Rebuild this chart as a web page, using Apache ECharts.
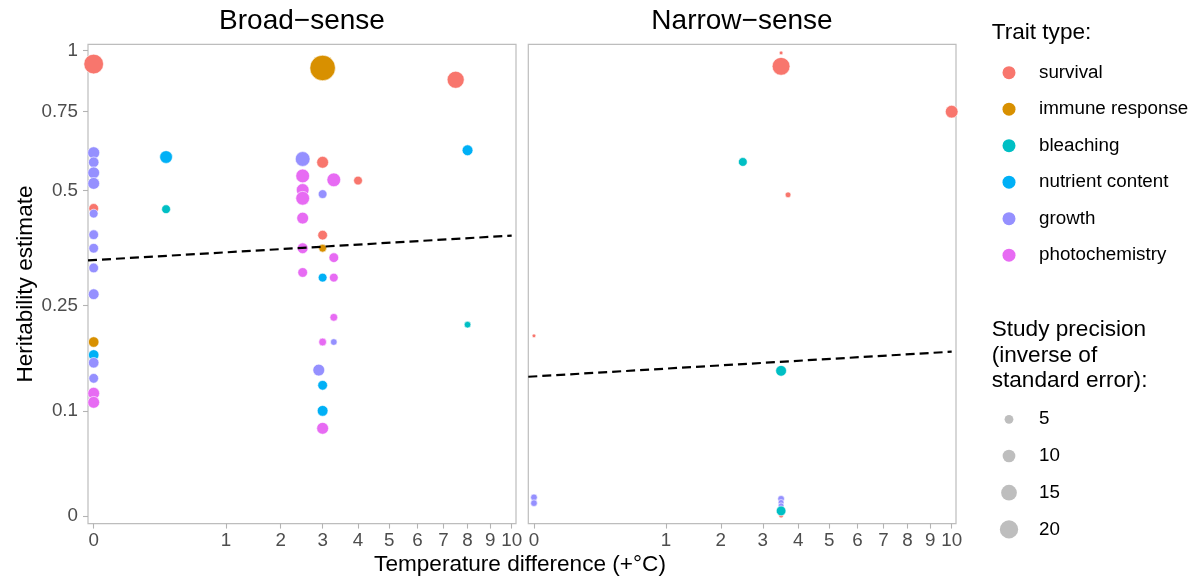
<!DOCTYPE html>
<html><head><meta charset="utf-8">
<script src="https://cdn.jsdelivr.net/npm/echarts@6/dist/echarts.min.js"></script>
<style>html,body{margin:0;padding:0;background:#fff}#c{width:1197px;height:584px}</style>
</head><body><div id="c"></div>
<script>
// ---------- data ----------
const traits = ['survival','immune response','bleaching','nutrient content','growth','photochemistry'];
const traitColors = ['#F8766D','#D89000','#00BFC4','#00B0F6','#9590FF','#E76BF3'];
const panels = ['Broad\u2212sense','Narrow\u2212sense'];
const xTicks = [0,1,2,3,4,5,6,7,8,9,10];
const yTicks = [0,0.1,0.25,0.5,0.75,1];
const yTickLabels = ['0','0.1','0.25','0.5','0.75','1'];
const sizeBreaks = [5,10,15,20];

// [temperature difference, heritability estimate, study precision]
const broadSurvival = [[0,0.940,23],[7.5,0.873,17.5],[0,0.454,6],[3,0.581,8.7],[4,0.528,5],[3,0.390,6]];
const broadImmune = [[3,0.923,38],[0,0.191,7],[3,0.361,4]];
const broadBleaching = [[0.3,0.452,5],[8,0.218,3]];
const broadNutrient = [[0.3,0.597,10],[8,0.618,7.3],[0,0.172,7],[3,0.301,5],[3,0.131,6],[3,0.100,7.3]];
const broadGrowth = [[0,0.610,9],[0,0.581,7],[0,0.550,8.7],[0,0.520,8.7],[0,0.441,5],[0,0.391,6],[0,0.361,6],[0,0.320,6],[0,0.270,7.3],[0,0.161,7],[0,0.140,6],[2.5,0.591,13.3],[3,0.491,5],[3.3,0.191,3],[2.9,0.151,8.7]];
const broadPhoto = [[0,0.121,8.7],[0,0.110,8.7],[2.5,0.541,11.6],[3.3,0.530,11.6],[2.5,0.502,10],[2.5,0.480,11.6],[2.5,0.430,8.7],[2.5,0.361,7.3],[3.3,0.341,6],[2.5,0.311,6],[3.3,0.301,5],[3.3,0.230,4],[3,0.191,4],[3,0.0805,8.7]];

const narrowSurvival = [[3.5,0.990,1.1],[3.5,0.930,19],[10,0.749,10],[3.7,0.489,2.3],[0,0.2005,1.1],[3.5,0.0005,1.7]];
const narrowImmune = [];
const narrowBleaching = [[2.5,0.582,5],[3.5,0.150,7.3],[3.5,0.0041,6]];
const narrowNutrient = [];
const narrowGrowth = [[0,0.015,3],[0,0.0103,3],[3.5,0.0138,3],[3.5,0.0109,2.3],[3.5,0.0082,2.3]];
const narrowPhoto = [];

const trendX = [0,10];
const trendBroad = [0.336,0.389];
const trendNarrow = [0.1425,0.1767];

// ---------- scales ----------
const fx = v => Math.sqrt(v);
const fy = v => Math.log(v + 0.2);
const sizeFn = p => Math.max(3, 4.25*Math.sqrt(p) - 0.7);
const XMIN = -0.043, XMAX = 3.195;
const YMIN = -1.638, YMAX = 0.207;
const FONT = "'Liberation Sans', Arial, Helvetica, sans-serif";

const panelData = [
  {survival:broadSurvival,'immune response':broadImmune,bleaching:broadBleaching,'nutrient content':broadNutrient,growth:broadGrowth,photochemistry:broadPhoto},
  {survival:narrowSurvival,'immune response':narrowImmune,bleaching:narrowBleaching,'nutrient content':narrowNutrient,growth:narrowGrowth,photochemistry:narrowPhoto}
];
const trends = [trendBroad, trendNarrow];
const drawOrder = ['survival','immune response','nutrient content','growth','bleaching','photochemistry'];

const grids = [
  {left:88, top:44.3, width:428, height:479.3},
  {left:528.3, top:44.3, width:427.7, height:479.3}
].map(g => Object.assign(g, {show:true, borderColor:'#BDBDBD', borderWidth:1.2, backgroundColor:'rgba(0,0,0,0)', containLabel:false, outerBoundsMode:'none'}));

const xAxes = [0,1].map(i => ({
  type:'value', gridIndex:i, min:XMIN, max:XMAX, position:'bottom',
  axisLine:{show:false, onZero:false},
  axisTick:{show:true, customValues:xTicks.map(fx), length:5, lineStyle:{color:'#B3B3B3', width:1.1}},
  axisLabel:{show:true, customValues:xTicks.map(fx), formatter:v => String(Math.round(v*v)), color:'#4D4D4D', fontSize:18.8, fontFamily:FONT, margin:8},
  splitLine:{show:false}
}));
const yAxes = [0,1].map(i => ({
  type:'value', gridIndex:i, min:YMIN, max:YMAX, position:'left',
  axisLine:{show:false, onZero:false},
  axisTick:{show:i===0, customValues:yTicks.map(fy), length:5, lineStyle:{color:'#B3B3B3', width:1.1}},
  axisLabel:{show:i===0, customValues:yTicks.map(fy), formatter:v => {
      let k = 0, best = 1e9;
      yTicks.forEach((t,j) => { const d = Math.abs(fy(t)-v); if (d < best) { best = d; k = j; } });
      return yTickLabels[k];
    }, color:'#4D4D4D', fontSize:18.8, fontFamily:FONT, margin:10},
  splitLine:{show:false}
}));

const series = [];
[0,1].forEach(i => {
  drawOrder.forEach(name => {
    const c = traitColors[traits.indexOf(name)];
    series.push({
      type:'scatter', name:name, xAxisIndex:i, yAxisIndex:i, clip:true,
      data: panelData[i][name].map(d => [fx(d[0]), fy(d[1]), d[2]]),
      symbol:'circle',
      symbolSize: d => sizeFn(d[2]),
      itemStyle:{color:c, borderColor:'#ffffff', borderWidth:0.6, opacity:1},
      emphasis:{disabled:true}, silent:true
    });
  });
  const t = trends[i];
  const s0 = fx(trendX[0]), s1 = fx(trendX[1]);
  const f0 = fy(t[0]), f1 = fy(t[1]);
  const fStart = f0 + (f1 - f0) * (XMIN - s0) / (s1 - s0);
  series.push({
    type:'line', xAxisIndex:i, yAxisIndex:i, data:[[XMIN, fStart],[s1, f1]],
    symbol:'none', silent:true, z:5,
    lineStyle:{color:'#000', width:2.2, type:[9,5]}
  });
});

const graphic = [];
const txt = (text, x, y, size, align) => ({type:'text', x:x, y:y, silent:true,
  style:{text:text, fontSize:size, fontFamily:FONT, fill:'#000', align:align || 'left', verticalAlign:'middle'}});
graphic.push(txt(panels[0], 302, 21, 28, 'center'));
graphic.push(txt(panels[1], 742, 21, 28, 'center'));
graphic.push(txt('Temperature difference (+\u00B0C)', 520, 565, 22.6, 'center'));
graphic.push({type:'text', x:26, y:284, rotation:Math.PI/2, silent:true,
  style:{text:'Heritability estimate', fontSize:22.6, fontFamily:FONT, fill:'#000', align:'center', verticalAlign:'middle'}});
graphic.push(txt('Trait type:', 991.7, 32.7, 22.6));
['Study precision','(inverse of','standard error):'].forEach((l,j) => graphic.push(txt(l, 991.7, 330 + j*25.3, 22.6)));
sizeBreaks.forEach((b,j) => {
  const cy = 419.3 + j*36.7;
  graphic.push({type:'circle', silent:true, shape:{cx:1009, cy:cy, r:sizeFn(b)/2}, style:{fill:'#BEBEBE'}});
  graphic.push(txt(String(b), 1039, cy, 18.8));
});

const chart = echarts.init(document.getElementById('c'), null, {renderer:'canvas'});
chart.setOption({
  animation:false,
  backgroundColor:'#fff',
  grid:grids, xAxis:xAxes, yAxis:yAxes, series:series,
  legend:{data:traits, orient:'vertical', left:997.5, top:57.7, itemWidth:13, itemHeight:13, itemGap:16.5,
    icon:'circle', selectedMode:false,
    itemStyle:{borderWidth:0},
    textStyle:{fontSize:18.8, color:'#000', fontFamily:FONT, lineHeight:20, padding:[0,0,0,18.5]}},
  graphic:graphic
});
</script></body></html>
